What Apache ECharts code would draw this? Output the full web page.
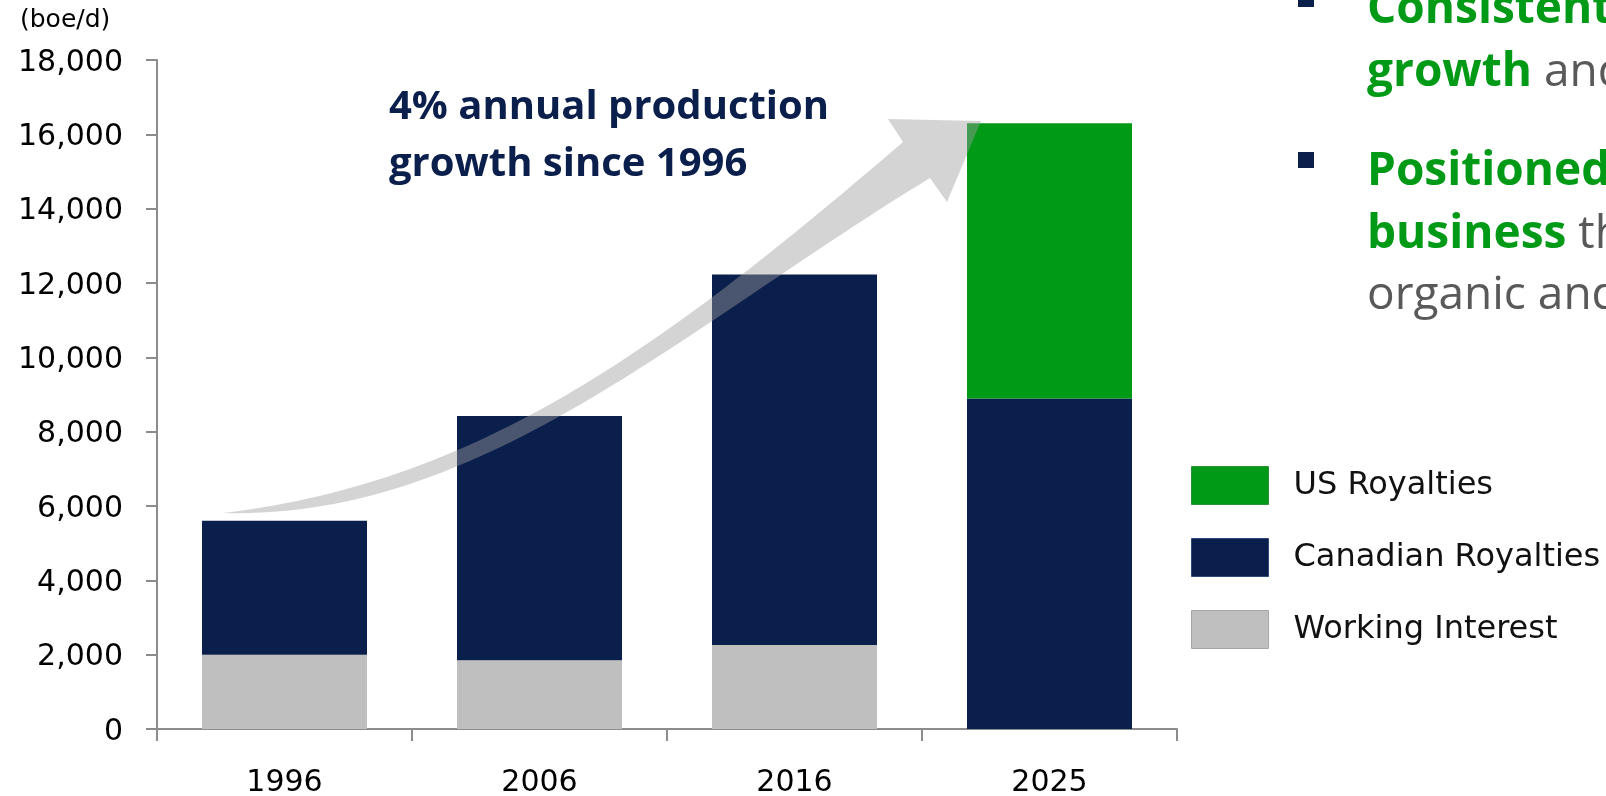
<!DOCTYPE html>
<html>
<head>
<meta charset="utf-8">
<script src="https://cdn.jsdelivr.net/npm/echarts@6/dist/echarts.min.js"></script>
<style>
  html, body { margin: 0; padding: 0; background: #ffffff; }
  #chart { width: 1606px; height: 796px; }
</style>
</head>
<body>
<div id="chart"></div>
<script>
// Production by source, barrels of oil equivalent per day
const categories = ['1996', '2006', '2016', '2025'];
const workingInterest = [2000, 1850, 2260, 0];
const canadianRoyalties = [3600, 6570, 9970, 8890];
const usRoyalties = [0, 0, 0, 7410];
const seriesNames = ['Working Interest', 'Canadian Royalties', 'US Royalties'];
const yTicks = { min: 0, max: 18000, interval: 2000 };

const NAVY = '#0a1f4b';
const GREEN = '#009a17';
const GREY = '#bfbfbf';
const AXIS = '#8c8c8c';
const TICK_FONT = '"DejaVu Sans", sans-serif';
const HEAD_FONT = '"Open Sans", sans-serif';

// Curved growth arrow: each shaft edge is one cubic Bezier, then a triangular head
const arrowUpperCurve = [[223,513],[473,483],[653,357],[903,142]];
const arrowLowerCurve = [[930,178],[680,330],[480,520],[223,513]];
const arrowHead = [[888,119],[981,121],[947,202]];

function sampleCubic(c, steps) {
  const out = [];
  for (let i = 0; i <= steps; i++) {
    const t = i / steps, u = 1 - t;
    const a = u * u * u, b = 3 * u * u * t, d = 3 * u * t * t, e = t * t * t;
    out.push([
      a * c[0][0] + b * c[1][0] + d * c[2][0] + e * c[3][0],
      a * c[0][1] + b * c[1][1] + d * c[2][1] + e * c[3][1]
    ]);
  }
  return out;
}
const arrowPoints = sampleCubic(arrowUpperCurve, 60).concat(arrowHead, sampleCubic(arrowLowerCurve, 60));

const chart = echarts.init(document.getElementById('chart'), null, { renderer: 'canvas' });

const option = {
  backgroundColor: '#ffffff',
  animation: false,
  grid: { left: 157, right: 429, top: 60, bottom: 67, outerBoundsMode: 'none', containLabel: false },
  legend: {
    orient: 'vertical',
    left: 1191,
    top: 466,
    padding: 0,
    itemWidth: 77,
    itemHeight: 38,
    itemGap: 33,
    icon: 'rect',
    selectedMode: false,
    textStyle: { fontFamily: TICK_FONT, fontSize: 32, color: '#111111', padding: [0, 0, 0, 20] },
    data: [
      { name: 'US Royalties', itemStyle: { borderColor: '#2b8f35', borderWidth: 1 } },
      { name: 'Canadian Royalties', itemStyle: { borderColor: '#2e4a7c', borderWidth: 1 } },
      { name: 'Working Interest', itemStyle: { borderColor: '#a6a6a6', borderWidth: 1 } }
    ]
  },
  xAxis: {
    type: 'category',
    data: categories,
    boundaryGap: true,
    axisLine: { lineStyle: { color: AXIS, width: 2 } },
    axisTick: { show: true, alignWithLabel: false, length: 12, lineStyle: { color: AXIS, width: 2 } },
    axisLabel: { margin: 39, fontFamily: TICK_FONT, fontSize: 30, color: '#000000' },
    splitLine: { show: false }
  },
  yAxis: {
    type: 'value',
    min: yTicks.min,
    max: yTicks.max,
    interval: yTicks.interval,
    axisLine: { show: true, lineStyle: { color: AXIS, width: 2 } },
    axisTick: { show: true, length: 11, lineStyle: { color: AXIS, width: 2 } },
    axisLabel: {
      margin: 34,
      color: '#000000',
      formatter: v => '{t|' + v.toLocaleString('en-US') + '}',
      rich: {
        t: { fontFamily: TICK_FONT, fontSize: 30, color: '#000000', padding: [6, 0, 0, 0] }
      }
    },
    splitLine: { show: false }
  },
  series: [
    { name: seriesNames[0], type: 'bar', stack: 'total', data: workingInterest, barWidth: 165, itemStyle: { color: GREY } },
    { name: seriesNames[1], type: 'bar', stack: 'total', data: canadianRoyalties, barWidth: 165, itemStyle: { color: NAVY } },
    { name: seriesNames[2], type: 'bar', stack: 'total', data: usRoyalties, barWidth: 165, itemStyle: { color: GREEN } }
  ],
  graphic: [
    {
      type: 'polygon',
      z: 100,
      shape: { points: arrowPoints },
      style: { fill: 'rgba(158,158,158,0.44)' }
    },
    {
      type: 'text', z: 110, left: 20, top: 8,
      style: { text: '(boe/d)', font: '25px ' + TICK_FONT, fill: '#000000' }
    },
    {
      type: 'text', z: 110, x: 389, y: 108,
      style: { text: '4% annual production', font: 'bold 40px ' + HEAD_FONT, fill: NAVY, verticalAlign: 'middle' }
    },
    {
      type: 'text', z: 110, x: 389, y: 165,
      style: { text: 'growth since 1996', font: 'bold 40px ' + HEAD_FONT, fill: NAVY, verticalAlign: 'middle' }
    },
    // Key points beside the chart
    { type: 'rect', z: 110, shape: { x: 1298, y: -9, width: 16, height: 16 }, style: { fill: NAVY } },
    { type: 'rect', z: 110, shape: { x: 1298, y: 152, width: 16, height: 16 }, style: { fill: NAVY } },
    {
      type: 'text', z: 110, x: 1367, y: 10,
      style: { text: 'Consistent', font: 'bold 46px ' + HEAD_FONT, fill: GREEN, verticalAlign: 'middle' }
    },
    {
      type: 'text', z: 110, x: 1367, y: 73,
      style: {
        text: '{b|growth }{n|and}', verticalAlign: 'middle',
        rich: {
          b: { fill: GREEN, fontWeight: 'bold', fontSize: 46, fontFamily: HEAD_FONT },
          n: { fill: '#595959', fontSize: 46, fontFamily: HEAD_FONT }
        }
      }
    },
    {
      type: 'text', z: 110, x: 1367, y: 172,
      style: { text: 'Positioned', font: 'bold 46px ' + HEAD_FONT, fill: GREEN, verticalAlign: 'middle' }
    },
    {
      type: 'text', z: 110, x: 1367, y: 235,
      style: {
        text: '{b|business }{n|through}', verticalAlign: 'middle',
        rich: {
          b: { fill: GREEN, fontWeight: 'bold', fontSize: 46, fontFamily: HEAD_FONT },
          n: { fill: '#595959', fontSize: 46, fontFamily: HEAD_FONT }
        }
      }
    },
    {
      type: 'text', z: 110, x: 1367, y: 296,
      style: { text: 'organic and', font: '46px ' + HEAD_FONT, fill: '#595959', verticalAlign: 'middle' }
    }
  ]
};

chart.setOption(option);
</script>
</body>
</html>
